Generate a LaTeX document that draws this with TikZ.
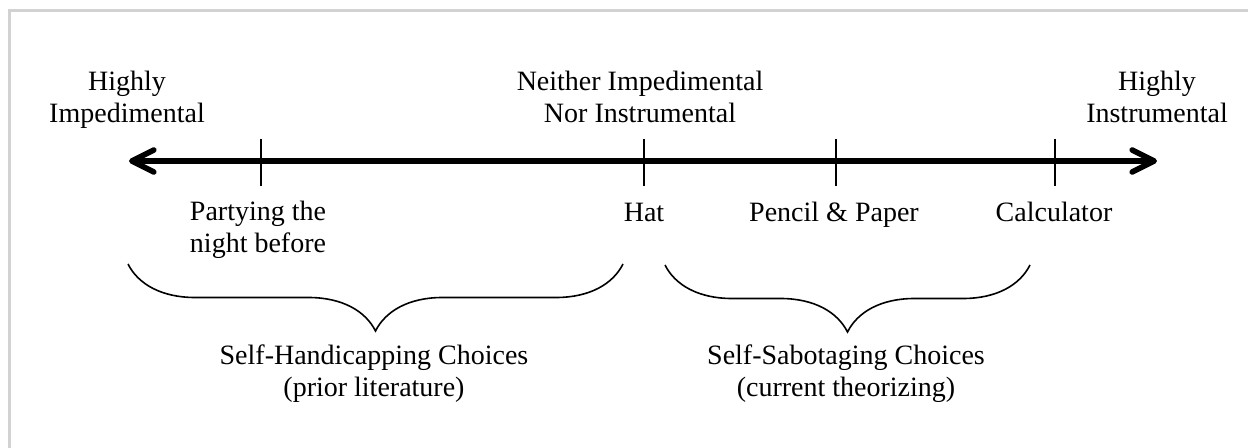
\documentclass[tikz,border=0pt]{standalone}
\usepackage{fontspec}
\setmainfont{Liberation Serif}
\usetikzlibrary{arrows.meta,decorations.pathreplacing}

\tikzset{
    testo/.style={font=\fontsize{14}{16}\selectfont, align=center, inner sep=0pt, anchor=base},
    asse/.style={line width=2.8pt, line cap=round,
        {Straight Barb[length=11pt,width=11pt,round]}-{Straight Barb[length=11pt,width=11pt,round]}},
    tacca/.style={line width=0.8pt},
    graffa/.style={line width=0.8pt, decorate, decoration={brace, mirror, amplitude=33.5pt}},
    cornice/.style={line width=1.1pt, gray!35}
}

\begin{document}
\begin{tikzpicture}[x=0.5pt, y=-0.5pt]
    \useasboundingbox (0,0) rectangle (1248,448);

    % cornice
    \coordinate (c1) at (9.5,448);
    \coordinate (c2) at (9.5,10.5);
    \coordinate (c3) at (1248,10.5);
    \draw[cornice] (c1) -- (c2) -- (c3);

    % asse
    \coordinate (sx) at (129,161);
    \coordinate (dx) at (1157,161);
    \draw[asse] (sx) -- (dx);

    % tacche
    \coordinate (festa-su) at (261,139);
    \coordinate (festa-giu) at (261,186);
    \coordinate (cappello-su) at (644,139);
    \coordinate (cappello-giu) at (644,186);
    \coordinate (matita-su) at (836,139);
    \coordinate (matita-giu) at (836,186);
    \coordinate (calc-su) at (1055,139);
    \coordinate (calc-giu) at (1055,186);
    \draw[tacca] (festa-su) -- (festa-giu);
    \draw[tacca] (cappello-su) -- (cappello-giu);
    \draw[tacca] (matita-su) -- (matita-giu);
    \draw[tacca] (calc-su) -- (calc-giu);

    % sopra: estremi e centro
    \node[testo] (imped) at (127,123) {Highly\\Impedimental};
    \node[testo] (neutro) at (640,123) {Neither Impedimental\\Nor Instrumental};
    \node[testo] (instr) at (1157,123) {Highly\\Instrumental};

    % sotto: esempi
    \node[testo] (festa) at (258,253) {Partying the\\night before};
    \node[testo] (cappello) at (644,222) {Hat};
    \node[testo] (matita) at (834,222) {Pencil \& Paper};
    \node[testo] (calc) at (1054,222) {Calculator};

    % graffe
    \coordinate (g1a) at (128,264);
    \coordinate (g1b) at (623,264);
    \coordinate (g2a) at (665,265);
    \coordinate (g2b) at (1030,265);
    \draw[graffa] (g1a) -- (g1b);
    \draw[graffa] (g2a) -- (g2b);

    \node[testo] (handicap) at (374,397) {Self-Handicapping Choices\\(prior literature)};
    \node[testo] (sabotaggio) at (846,397) {Self-Sabotaging Choices\\(current theorizing)};
\end{tikzpicture}
\end{document}
